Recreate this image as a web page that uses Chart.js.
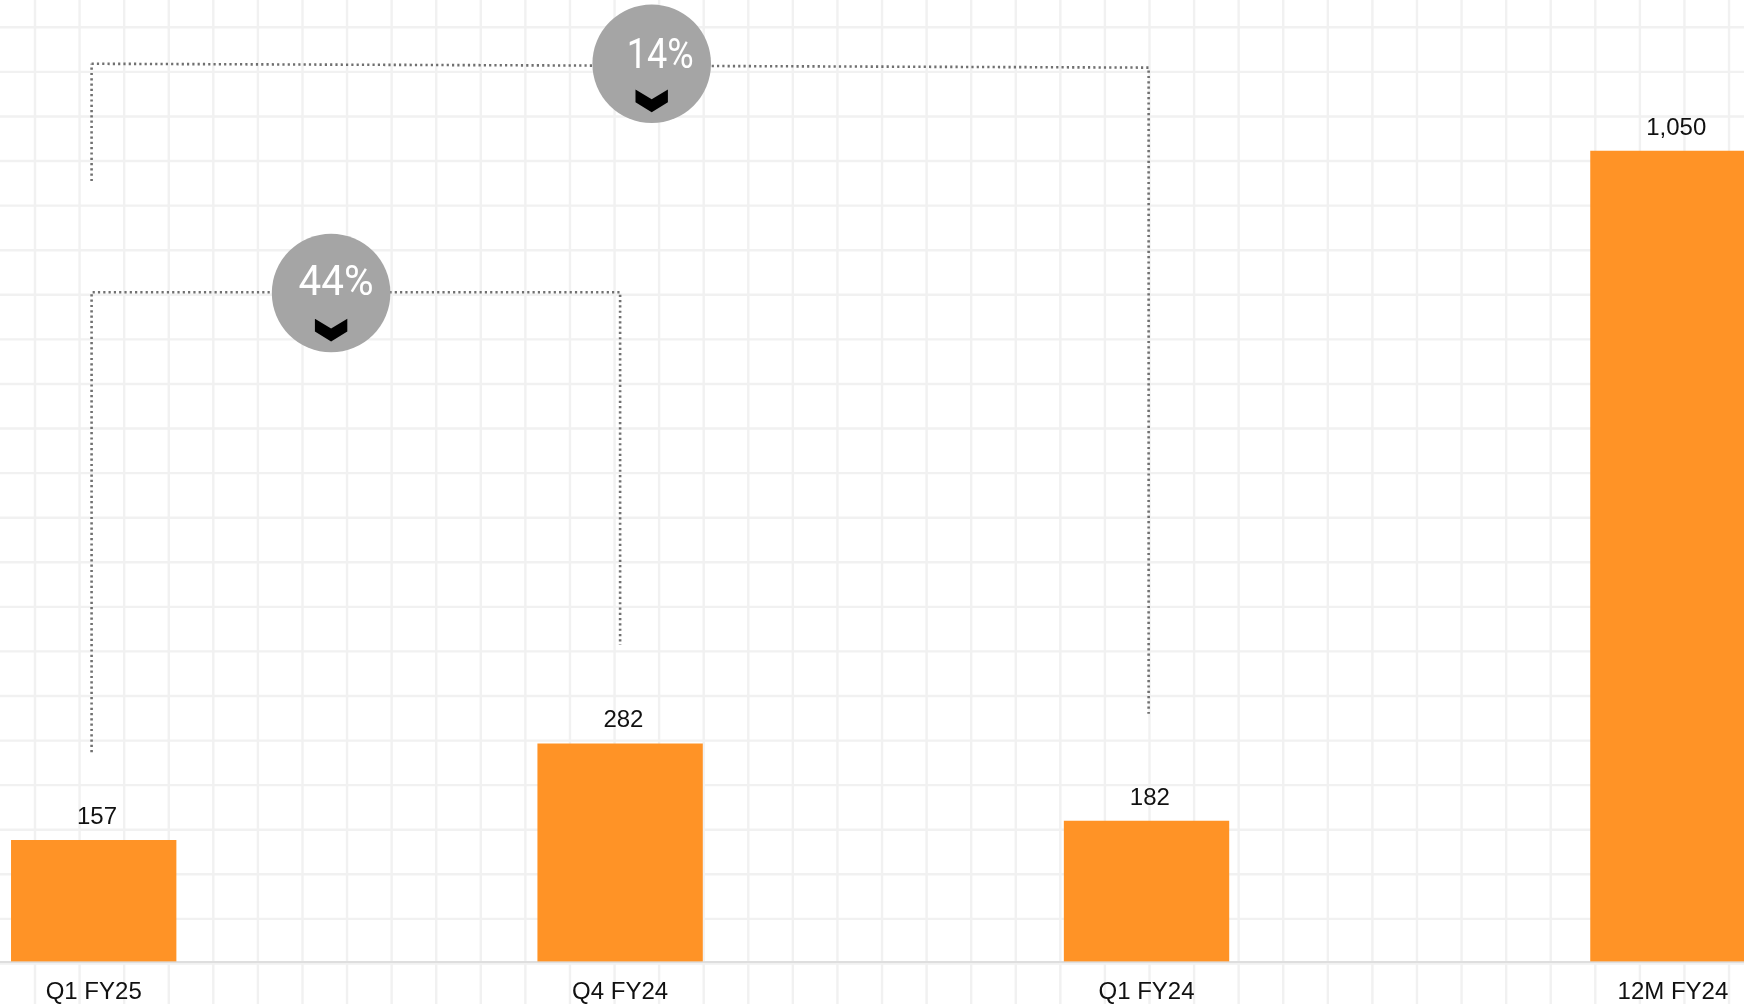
<!DOCTYPE html>
<html>
<head>
<meta charset="utf-8">
<title>Quarterly comparison</title>
<script src="https://cdn.jsdelivr.net/npm/chart.js@4/dist/chart.umd.min.js"></script>
<style>
  html, body { margin: 0; padding: 0; background: #fff; overflow: hidden; }
  #wrap { position: relative; width: 1744px; height: 1004px; }
</style>
</head>
<body>
<div id="wrap"><canvas id="myChart"></canvas></div>
<script>
"use strict";
const categories = ['Q1 FY25', 'Q4 FY24', 'Q1 FY24', '12M FY24'];
const values = [157, 282, 182, 1050];
const valueLabels = ['157', '282', '182', '1,050'];

// dotted brackets between two periods, in axis units
const bracketShort = [[-0.004, 271], [-0.004, 867], [1, 867], [1, 410]];
const bracketLongLeft = [[-0.004, 1011], [-0.004, 1163]];
const bracketLongTop = [[-0.004, 1163], [2.004, 1158], [2.004, 321]];

// change badges sitting on the brackets
const badgeLabels = ['44%', '14%'];
const badgeX = [0.451, 1.06];
const badgeY = [866, 1163];

const barColor = '#FF9326';
const dotColor = '#707070';
const badgeColor = '#a5a5a5';
const axisFont = { family: '"Liberation Sans", Arial, sans-serif', size: 24 };

const toPoints = (list) => list.map(([x, y]) => ({ x: x, y: y }));

function dotted(list) {
  return {
    type: 'line',
    data: toPoints(list),
    borderColor: dotColor,
    borderWidth: 2.6,
    borderDash: [2.2, 3.1],
    borderCapStyle: 'butt',
    pointRadius: 0,
    tension: 0,
    fill: false,
    order: 2
  };
}

// light squared paper behind everything
const paperGrid = {
  id: 'paperGrid',
  beforeDraw(chart) {
    const c = chart.ctx;
    const step = 44.58;
    c.save();
    c.fillStyle = '#fff';
    c.fillRect(0, 0, chart.width, chart.height);
    c.strokeStyle = '#f1f1f1';
    c.lineWidth = 2.4;
    c.beginPath();
    for (let x = 35; x < chart.width; x += step) {
      c.moveTo(x, 0);
      c.lineTo(x, chart.height);
    }
    for (let y = 27.3; y < chart.height; y += step) {
      c.moveTo(0, y);
      c.lineTo(chart.width, y);
    }
    c.stroke();
    c.restore();
  }
};

const barValues = {
  id: 'barValues',
  afterDatasetsDraw(chart) {
    const c = chart.ctx;
    const bars = chart.getDatasetMeta(0).data;
    c.save();
    c.fillStyle = '#111';
    c.font = axisFont.size + 'px ' + axisFont.family;
    c.textAlign = 'center';
    c.textBaseline = 'middle';
    bars.forEach((bar, i) => {
      c.fillText(valueLabels[i], bar.x + 3.3, bar.y - 23);
    });
    c.restore();
  }
};

const badges = {
  id: 'badges',
  afterDatasetsDraw(chart) {
    const c = chart.ctx;
    const xs = chart.scales.x;
    const ys = chart.scales.y;
    const widths = [75, 67];
    badgeLabels.forEach((label, i) => {
      const x = xs.getPixelForValue(badgeX[i]);
      const y = ys.getPixelForValue(badgeY[i]);
      c.save();
      c.fillStyle = badgeColor;
      c.beginPath();
      c.arc(x, y, 59.3, 0, Math.PI * 2);
      c.fill();

      // narrow percent text
      c.fillStyle = '#fff';
      c.font = '450 43px Roboto, sans-serif';
      c.textAlign = 'center';
      c.textBaseline = 'alphabetic';
      const w = c.measureText(label).width;
      c.save();
      c.translate(x + (i === 0 ? 5 : 8.5), y + (i === 0 ? 2 : 4));
      c.scale(widths[i] / w, 1);
      c.fillText(label, 0, 0);
      c.restore();

      // chevron under the text
      c.fillStyle = '#000';
      c.beginPath();
      c.moveTo(x - 16.2, y + 25.8);
      c.lineTo(x, y + 35.6);
      c.lineTo(x + 16.2, y + 25.8);
      c.lineTo(x + 16.2, y + 38.6);
      c.lineTo(x, y + 48.6);
      c.lineTo(x - 16.2, y + 38.6);
      c.closePath();
      c.fill();
      c.restore();
    });
  }
};

const myChart = new Chart(document.getElementById('myChart'), {
  type: 'bar',
  plugins: [paperGrid, barValues, badges],
  data: {
    datasets: [
      {
        data: values.map((v, i) => ({ x: i, y: v })),
        backgroundColor: barColor,
        barThickness: 164.7,
        order: 3
      },
      dotted(bracketShort),
      dotted(bracketLongLeft),
      dotted(bracketLongTop)
    ]
  },
  options: {
    responsive: true,
    maintainAspectRatio: false,
    animation: false,
    layout: { padding: 0 },
    plugins: {
      legend: { display: false },
      tooltip: { enabled: false }
    },
    scales: {
      x: {
        type: 'linear',
        offset: false,
        min: -0.178,
        max: 3.135,
        afterBuildTicks(axis) {
          axis.ticks = categories.map((c, i) => ({ value: i }));
        },
        afterFit(axis) {
          // keep the plot running to both page edges
          axis.height = 42.5;
          axis.paddingLeft = 0;
          axis.paddingRight = 0;
        },
        grid: { display: false, drawTicks: false, offset: false },
        border: { display: true, color: '#dedede', width: 2 },
        ticks: {
          autoSkip: false,
          maxRotation: 0,
          padding: 16.5,
          color: '#111',
          font: axisFont,
          callback: (value) => categories[value]
        }
      },
      y: {
        display: false,
        min: 0,
        max: 1245.6
      }
    }
  }
});
</script>
</body>
</html>
